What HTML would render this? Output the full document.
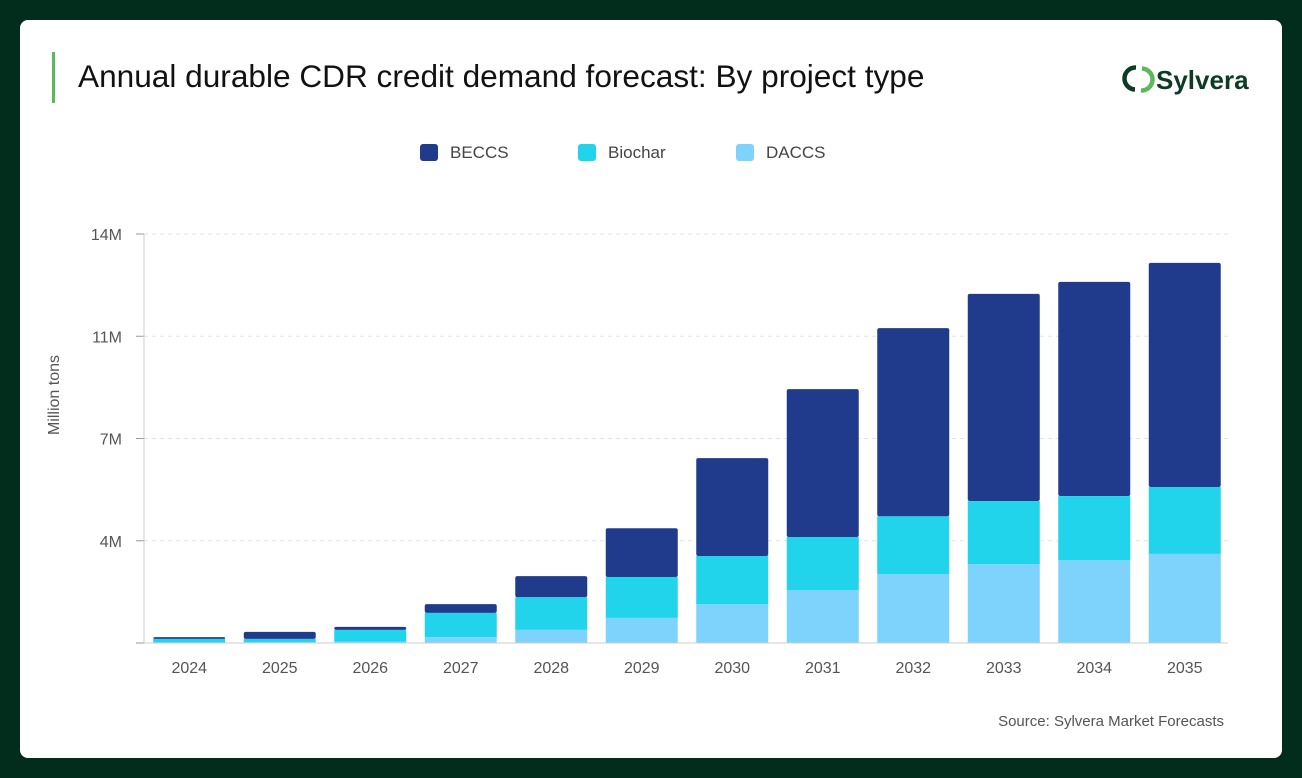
<!DOCTYPE html>
<html><head><meta charset="utf-8"><style>
body{margin:0;width:1302px;height:778px;background:#022d1c;font-family:"Liberation Sans",sans-serif;overflow:hidden}
#card{position:absolute;left:20px;top:20px;width:1262px;height:738px;background:#fff;border-radius:8px}
</style></head><body>
<div id="card"></div>
<svg width="1302" height="778" style="position:absolute;left:0;top:0">
<rect x="52" y="52" width="3" height="51" fill="#5cb85c"/>
<text x="78" y="87" font-size="31.6" fill="#111">Annual durable CDR credit demand forecast: By project type</text>
<g>
<path d="M1136 67.5 A11 11 0 0 0 1135 89.5" fill="none" stroke="#0d3b24" stroke-width="4.5"/>
<path d="M1141 90.5 A11 11 0 0 0 1142 68.5" fill="none" stroke="#5cb85c" stroke-width="4.5"/>
<text x="1156" y="89" font-size="26" font-weight="bold" fill="#0d3b24">Sylvera</text>
</g>
<g id="legend"></g>
<g id="grid"></g>
<g id="bars"></g>
<g id="axes"></g>
<text transform="translate(59,395) rotate(-90)" text-anchor="middle" font-size="16" fill="#555">Million tons</text>
<text x="1224" y="726" text-anchor="end" font-size="15" fill="#555">Source: Sylvera Market Forecasts</text>
</svg>
<script>
const categories=["2024","2025","2026","2027","2028","2029","2030","2031","2032","2033","2034","2035"];
const daccs=[0.02,0.03,0.05,0.2,0.45,0.86,1.33,1.81,2.36,2.7,2.84,3.05];
const biochar=[0.12,0.11,0.4,0.83,1.12,1.4,1.65,1.82,1.98,2.16,2.19,2.29];
const beccs=[0.06,0.24,0.1,0.3,0.72,1.67,3.35,5.06,6.44,7.09,7.33,7.67];
const tickValues=[0,3.5,7,10.5,14];
const tickLabels=["","4M","7M","11M","14M"];
const seriesNames=["BECCS","Biochar","DACCS"];
const colors={BECCS:"#213b8c",Biochar:"#22d3ec",DACCS:"#7dd3fb"};
const NS="http://www.w3.org/2000/svg";
const y0=643,yTop=234,maxV=14,x0=144,step=90.5,bw=72;
const y=v=>y0-(v/maxV)*(y0-yTop);
const xc=i=>x0+step*(i+0.5);
function mk(tag,attrs,parent){const e=document.createElementNS(NS,tag);for(const k in attrs)e.setAttribute(k,attrs[k]);document.getElementById(parent).appendChild(e);return e;}
tickValues.forEach((t,i)=>{
 if(i>0){const l=mk("line",{x1:144,x2:1228,y1:y(t),y2:y(t),stroke:"#e3e3e3","stroke-dasharray":"4 4"},"grid");
 
 }
 const tk=mk("line",{x1:136,x2:144,y1:y(t),y2:y(t),stroke:"#999"},"axes");
 
 
 const tx=mk("text",{x:122,y:y(t)+6,"text-anchor":"end","font-size":16,fill:"#555"},"axes");tx.textContent=tickLabels[i];
 
 
});
const ax=mk("line",{x1:144,x2:144,y1:yTop,y2:y0,stroke:"#ccc"},"axes");


const bx=mk("line",{x1:144,x2:1228,y1:y0,y2:y0,stroke:"#ccc"},"axes");


categories.forEach((c,i)=>{
 let base=0;
 [["DACCS",daccs[i]],["Biochar",biochar[i]],["BECCS",beccs[i]]].forEach(([n,v])=>{
  const top=base+v;
  const r=mk("rect",{x:xc(i)-bw/2,y:y(top),width:bw,height:y(base)-y(top),fill:colors[n],rx:n==="BECCS"?2:0},"bars");
  
  
  base=top;
 });
 const t=mk("text",{x:xc(i),y:673,"text-anchor":"middle","font-size":16,fill:"#555"},"axes");t.textContent=c;
 
 
});
const lx=[420,578,736];
seriesNames.forEach((n,i)=>{
 const r=mk("rect",{x:lx[i],y:144,width:18,height:17,rx:3,fill:colors[n]},"legend");
 
 
 const t=mk("text",{x:lx[i]+30,y:158,"font-size":17,fill:"#444"},"legend");t.textContent=n;
 
 
});
</script>
</body></html>
